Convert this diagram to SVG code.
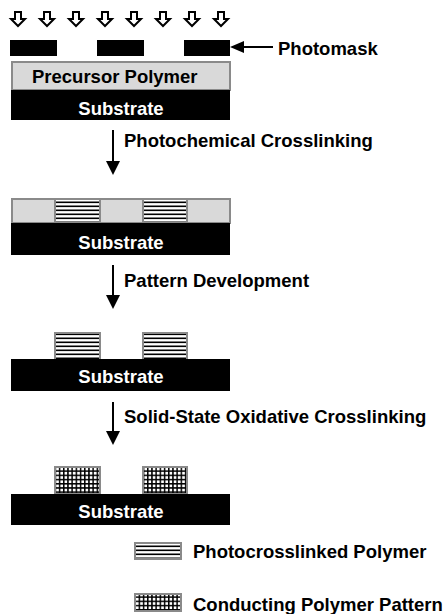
<svg xmlns="http://www.w3.org/2000/svg" width="444" height="614" viewBox="0 0 444 614">
<style>
text{font-family:"Liberation Sans",Arial,sans-serif;font-weight:bold;font-size:18.5px;fill:#000}
.sub{fill:#fff;text-anchor:middle}
.subst{fill:#000}
.layer{fill:#d9d9d9;stroke:#8a8a8a;stroke-width:2}
.stripe{fill:url(#stripes);stroke:#8a8a8a;stroke-width:2}
.grid{fill:url(#grid);stroke:#8a8a8a;stroke-width:2}
.mask{fill:#000}
.uv{fill:#fff;stroke:#000;stroke-width:2;stroke-linejoin:miter}
.conn{stroke:#000;stroke-width:2;fill:none}
</style>
<defs>
<pattern id="stripes" patternUnits="userSpaceOnUse" x="0" y="0" width="4" height="4">
<rect width="4" height="4" fill="#fff"/>
<rect y="1.5" width="4" height="1.6" fill="#000"/>
</pattern>
<pattern id="grid" patternUnits="userSpaceOnUse" x="0" y="0" width="4.2" height="4.2">
<rect width="4.2" height="4.2" fill="#000"/>
<rect x="1.5" y="1.5" width="2.7" height="2.7" fill="#fff"/>
</pattern>
</defs>

<g id="uv-light">
<path class="uv" d="M15,12 h6 v7 h4 l-7,7 l-7,-7 h4 Z"/>
<path class="uv" d="M44,12 h6 v7 h4 l-7,7 l-7,-7 h4 Z"/>
<path class="uv" d="M73,12 h6 v7 h4 l-7,7 l-7,-7 h4 Z"/>
<path class="uv" d="M102,12 h6 v7 h4 l-7,7 l-7,-7 h4 Z"/>
<path class="uv" d="M131,12 h6 v7 h4 l-7,7 l-7,-7 h4 Z"/>
<path class="uv" d="M160,12 h6 v7 h4 l-7,7 l-7,-7 h4 Z"/>
<path class="uv" d="M189,12 h6 v7 h4 l-7,7 l-7,-7 h4 Z"/>
<path class="uv" d="M218,12 h6 v7 h4 l-7,7 l-7,-7 h4 Z"/>
</g>

<g id="photomask">
<rect class="mask" x="10" y="40" width="47" height="16"/>
<rect class="mask" x="97" y="40" width="47" height="16"/>
<rect class="mask" x="184" y="40" width="46" height="16"/>
<text x="278" y="55">Photomask</text>
</g>

<g id="stage1">
<rect class="layer" x="12" y="62" width="218" height="28"/>
<text x="32" y="83">Precursor Polymer</text>
<rect class="subst" x="11" y="90" width="219" height="30"/>
<text class="sub" x="121" y="115">Substrate</text>
</g>

<g id="stage2">
<rect class="layer" x="12" y="199" width="218" height="24"/>
<rect class="stripe" x="55" y="199" width="45" height="24"/>
<rect class="stripe" x="143" y="199" width="44" height="24"/>
<rect class="subst" x="11" y="223" width="219" height="32"/>
<text class="sub" x="121" y="249">Substrate</text>
</g>

<g id="stage3">
<rect class="stripe" x="55" y="333" width="45" height="27"/>
<rect class="stripe" x="143" y="333" width="44" height="27"/>
<rect class="subst" x="11" y="359" width="219" height="32"/>
<text class="sub" x="121" y="383">Substrate</text>
</g>

<g id="stage4">
<rect class="grid" x="55" y="467" width="45" height="27"/>
<rect class="grid" x="143" y="467" width="44" height="27"/>
<rect class="subst" x="11" y="494" width="219" height="31"/>
<text class="sub" x="121" y="518">Substrate</text>
</g>

<g id="legend">
<rect class="stripe" x="135" y="543" width="46" height="16"/>
<text x="193" y="558">Photocrosslinked Polymer</text>
<rect class="grid" x="135" y="594" width="46" height="17"/>
<text x="193" y="611">Conducting Polymer Pattern</text>
</g>

<g id="connectors">
<line class="conn" x1="243" y1="47" x2="273" y2="47"/>
<path d="M230,47 L244,41 L244,53 Z" fill="#000"/>
<line class="conn" x1="113" y1="130" x2="113" y2="162"/>
<path d="M106,161 L120,161 L113,175 Z" fill="#000"/>
<line class="conn" x1="113" y1="265" x2="113" y2="296"/>
<path d="M106,295 L120,295 L113,309 Z" fill="#000"/>
<line class="conn" x1="113" y1="402" x2="113" y2="432"/>
<path d="M106,431 L120,431 L113,445 Z" fill="#000"/>
</g>

<g id="labels">
<text x="124" y="147">Photochemical Crosslinking</text>
<text x="124" y="287">Pattern Development</text>
<text x="124" y="423">Solid-State Oxidative Crosslinking</text>
</g>
</svg>
